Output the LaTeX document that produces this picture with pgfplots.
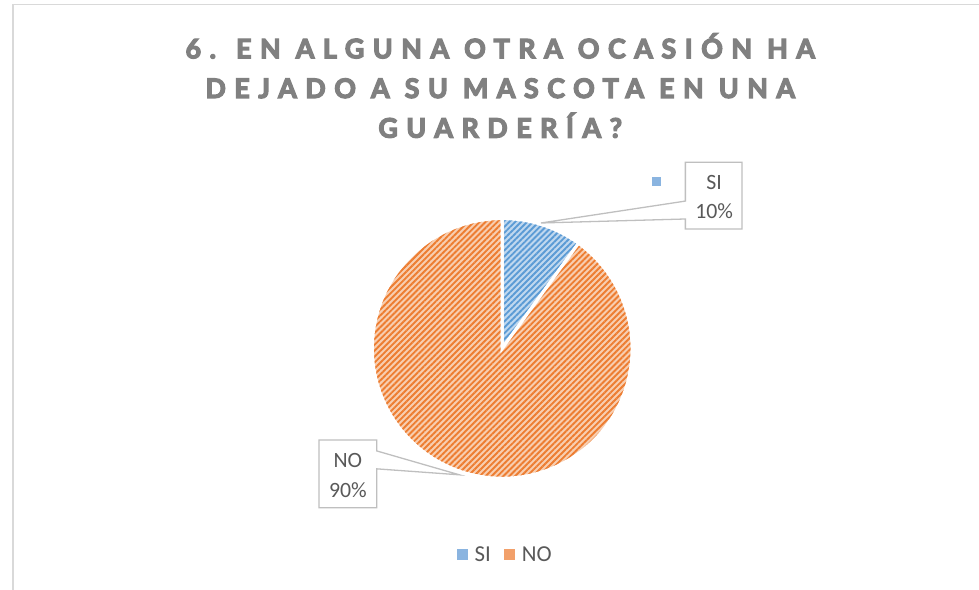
\documentclass[border=0pt]{standalone}
\usepackage{pgfplots}
\pgfplotsset{compat=1.18}
\usepackage{pgfplotstable}
\usepackage{fontspec}
\setmainfont{Carlito}
\newfontfamily\titlefont[LetterSpace=32]{Lato}
\usetikzlibrary{patterns.meta}
\definecolor{siLine}{HTML}{5B9BD5}
\definecolor{siFill}{HTML}{C0D8EF}
\definecolor{siMark}{HTML}{8AB4E0}
\definecolor{noLine}{HTML}{ED7D31}
\definecolor{noFill}{HTML}{F8CEB0}
\definecolor{noMark}{HTML}{F2A06A}
\definecolor{txt}{HTML}{595959}
\definecolor{ttl}{HTML}{808080}
\definecolor{frm}{HTML}{D9D9D9}
\definecolor{lbl}{HTML}{BFBFBF}
\newcommand\heavy[1]{\special{pdf:literal direct 2 Tr 1.3 w}#1\special{pdf:literal direct 0 Tr}}

\pgfplotstableread{
cat value
SI 10
NO 90
}\piedata

\begin{document}
\pgfplotstablegetelem{0}{value}\of\piedata \let\vSI\pgfplotsretval
\pgfplotstablegetelem{1}{value}\of\piedata \let\vNO\pgfplotsretval
\pgfmathsetmacro\aA{90-3.6*\vSI}
\pgfmathsetmacro\aB{\aA-3.6*\vNO}
\begin{tikzpicture}
\begin{axis}[
  at={(0,0)}, anchor=south west,
  scale only axis, width=979bp, height=592bp,
  xmin=0, xmax=979, ymin=0, ymax=592, y dir=reverse,
  hide axis, clip=false,
  legend style={draw=none, fill=none, at={(axis cs:503,557)}, anchor=center,
    font=\fontsize{23}{27}\selectfont\color{txt},
    /tikz/every even column/.append style={column sep=11bp}},
  legend columns=-1,
]
% frame
\draw[frm, line width=1.3bp] (axis cs:8.5,700) -- (axis cs:8.5,4.5) -- (axis cs:1100,4.5);
% pie slices
\addplot[draw=white, line width=3bp, preaction={fill=siFill},
  pattern={Lines[angle=45,distance=4.2bp,line width=1.9bp]}, pattern color=siLine,
  domain=\aA:90, samples=40, variable=\t,
  legend image code/.code={\fill[siMark] (0bp,-4bp) rectangle (8bp,4bp); \path (13bp,0bp);}]
  ({500+130.5*cos(\t)}, {350-130.5*sin(\t)}) -- (axis cs:500,350) -- cycle;
\addlegendentry{SI}
\addplot[draw=white, line width=3bp, preaction={fill=noFill},
  pattern={Lines[angle=45,distance=4.2bp,line width=1.9bp]}, pattern color=noLine,
  domain=\aB:\aA, samples=200, variable=\t,
  legend image code/.code={\fill[noMark] (0bp,-4bp) rectangle (8bp,4bp); \path (13bp,0bp);}]
  ({500+130.5*cos(\t)}, {350-130.5*sin(\t)}) -- (axis cs:500,350) -- cycle;
\addlegendentry{NO}
% title
\node[align=center, text=ttl, font=\titlefont\bfseries\fontsize{27}{40}\selectfont]
  at (axis cs:498,86) {\heavy{6. EN ALGUNA OTRA OCASIÓN HA}\\\heavy{DEJADO A SU MASCOTA EN UNA}\\\heavy{GUARDERÍA?}};
% callouts
\draw[lbl, line width=1.3bp, fill=white] (axis cs:684,163) -- (axis cs:741,163) -- (axis cs:741,230)
  -- (axis cs:684,230) -- (axis cs:684,220) -- (axis cs:539,224) -- (axis cs:684,202) -- cycle;
\node[text=txt, font=\fontsize{22}{26}\selectfont] at (axis cs:713,183) {SI};
\node[text=txt, font=\fontsize{22}{26}\selectfont] at (axis cs:713,212) {10\%};
\draw[lbl, line width=1.3bp, fill=white] (axis cs:316,442) -- (axis cs:374,442) -- (axis cs:374,453)
  -- (axis cs:457,477) -- (axis cs:374,471) -- (axis cs:374,510) -- (axis cs:316,510) -- cycle;
\node[text=txt, font=\fontsize{22}{26}\selectfont] at (axis cs:345,463) {NO};
\node[text=txt, font=\fontsize{22}{26}\selectfont] at (axis cs:345,492) {90\%};
% legend key in data label
\addplot[only marks, mark=square*, mark size=4bp, forget plot, color=siMark,
  mark options={draw=siMark, fill=siMark, line width=0pt}]
  coordinates {(655,182)};
\end{axis}
\pgfresetboundingbox
\path (current axis.south west) rectangle (current axis.north east);
\end{tikzpicture}
\end{document}
